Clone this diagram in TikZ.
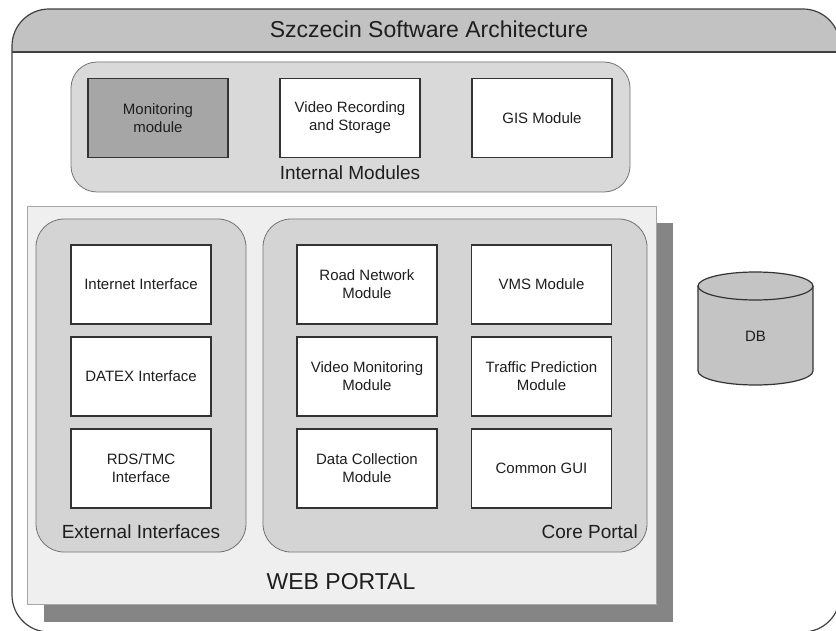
\documentclass[tikz,border=0pt]{standalone}
\usepackage{fontspec}
\setmainfont{Liberation Sans}
\definecolor{headgray}{HTML}{C2C2C2}
\definecolor{intgray}{HTML}{D9D9D9}
\definecolor{mongray}{HTML}{A6A6A6}
\definecolor{portalbg}{HTML}{EFEFEF}
\definecolor{grpgray}{HTML}{D4D4D4}
\definecolor{shadowgray}{HTML}{858585}
\definecolor{dbgray}{HTML}{C4C4C4}
\definecolor{edge}{HTML}{333333}
\definecolor{ink}{HTML}{1E1E1E}
\begin{document}
\begin{tikzpicture}[x=1pt,y=-1pt,
  every node/.style={text=ink},
  module/.style={draw=edge, line width=1.4pt, fill=white, rectangle,
    minimum width=140pt, minimum height=79pt, inner sep=2pt, align=center,
    font=\fontsize{15}{18}\selectfont},
  groupbox/.style={draw=black!55, line width=0.8pt, fill=grpgray, rectangle,
    rounded corners=28pt, inner sep=0pt},
  grouplabel/.style={font=\fontsize{19}{22}\selectfont, inner sep=0pt},
  biglabel/.style={font=\fontsize{23}{26}\selectfont, inner sep=0pt}]

\useasboundingbox (0,0) rectangle (836,631);

% outer frame with its grey title band
\begin{scope}
  \clip (0,0) rectangle (836,631);
  \begin{scope}
    \clip[rounded corners=37pt] (12,9) rectangle (840,632);
    \fill[headgray] (12,9) rectangle (840,52);
  \end{scope}
  \draw[black!75, line width=1.2pt] (12,52) -- (840,52);
  \draw[black!75, line width=1.2pt, rounded corners=37pt] (12,9) rectangle (840,632);
\end{scope}
\node[biglabel] (title) at (429,29) {Szczecin Software Architecture};

% internal modules
\node[groupbox, fill=intgray, rounded corners=26pt, minimum width=559pt, minimum height=130pt] (internal) at (350.5,127) {};
\node[module, fill=mongray] (mon) at (158,118) {Monitoring\\module};
\node[module] (vrs) at (350,118) {Video Recording\\and Storage};
\node[module] (gis) at (542,118) {GIS Module};
\node[grouplabel] (intlabel) at (350,173) {Internal Modules};

% web portal panel with its drop shadow
\node[rectangle, fill=shadowgray, minimum width=629pt, minimum height=398pt, inner sep=0pt] (shadow) at (358.5,422.5) {};
\node[rectangle, draw=black!35, line width=0.8pt, fill=portalbg, minimum width=629pt, minimum height=398pt, inner sep=0pt] (portal) at (341.5,405) {};
\node[biglabel] (portallabel) at (341,582) {WEB PORTAL};

% external interfaces
\node[groupbox, minimum width=210pt, minimum height=333pt] (ext) at (141,385.5) {};
\node[module] (inet) at (141,284.5) {Internet Interface};
\node[module] (datex) at (141,376.5) {DATEX Interface};
\node[module] (rds) at (141,468.5) {RDS/TMC\\Interface};
\node[grouplabel] (extlabel) at (141,532) {External Interfaces};

% core portal
\node[groupbox, minimum width=384pt, minimum height=333pt] (core) at (455,385.5) {};
\node[module] (road) at (367,284.5) {Road Network\\Module};
\node[module] (vms) at (541.5,284.5) {VMS Module};
\node[module] (vmon) at (367,376.5) {Video Monitoring\\Module};
\node[module] (tpred) at (541.5,376.5) {Traffic Prediction\\Module};
\node[module] (dcol) at (367,468.5) {Data Collection\\Module};
\node[module] (gui) at (541.5,468.5) {Common GUI};
\node[grouplabel, anchor=east] (corelabel) at (638,532) {Core Portal};

% database cylinder (radii in pt, so angles are taken on the page)
\path[fill=dbgray, draw=edge, line width=1.2pt]
  (698,286) -- (698,371) arc[start angle=180, end angle=360, x radius=57.5pt, y radius=14pt]
  -- (813,286);
\draw[fill=dbgray, draw=edge, line width=1.2pt] (755.5,286) ellipse [x radius=57.5pt, y radius=14pt];
\node[font=\fontsize{15}{18}\selectfont] (db) at (755.5,336) {DB};

\end{tikzpicture}
\end{document}
